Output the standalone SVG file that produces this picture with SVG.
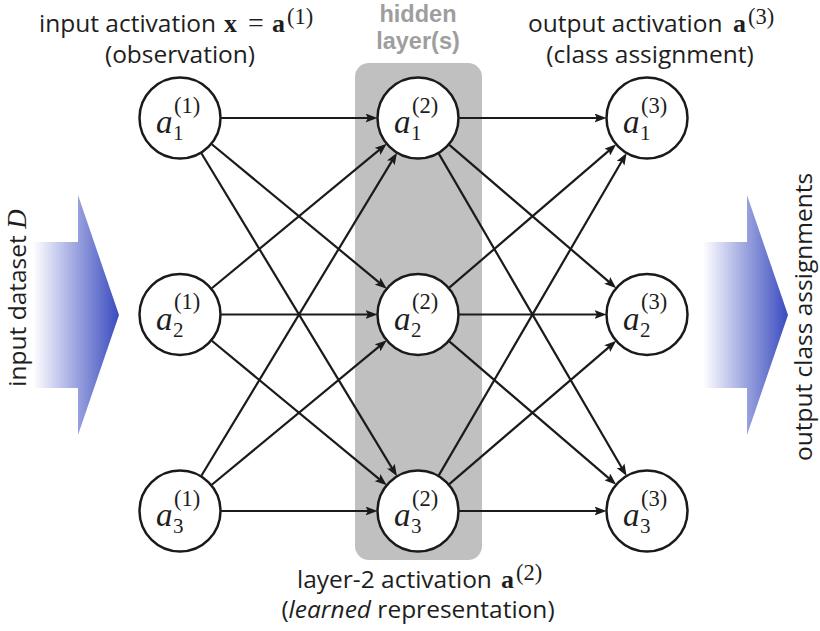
<svg xmlns="http://www.w3.org/2000/svg" width="820" height="631" viewBox="0 0 820 631">
<style>
.lbl{font-family:"Open Sans","DejaVu Sans",sans-serif;font-size:24.5px;fill:#1e1e1e}
.hid{font-family:"Liberation Sans",Arial,sans-serif;font-weight:700;font-size:23.5px;fill:#9e9e9e}
.mb{font-family:"Liberation Serif",serif;font-weight:700;font-size:26px;fill:#1e1e1e}
.eq{font-family:"Liberation Serif",serif;font-size:28px;fill:#1e1e1e}
.ai{font-family:"Liberation Serif",serif;font-style:italic;font-size:33px;fill:#1e1e1e}
.sb{font-family:"Liberation Serif",serif;font-size:21px;fill:#1e1e1e}
.sp{font-family:"Liberation Serif",serif;font-size:22.5px;fill:#1e1e1e}
.node circle{fill:#fff;stroke:#1a1a1a;stroke-width:2.5}
.edges line{stroke:#1a1a1a;stroke-width:2.2;marker-end:url(#ah)}
</style>
<defs>
<marker id="ah" viewBox="0 0 12 9" refX="7" refY="4.5" markerWidth="12" markerHeight="9" markerUnits="userSpaceOnUse" orient="auto">
<path d="M0,0 L12,4.5 L0,9 L2.5,4.5 Z" fill="#1a1a1a"/>
</marker>
<linearGradient id="gl" gradientUnits="userSpaceOnUse" x1="33" y1="0" x2="119" y2="0">
<stop offset="0" stop-color="#ffffff"/>
<stop offset="1" stop-color="#3a4bbf"/>
</linearGradient>
<linearGradient id="gr" gradientUnits="userSpaceOnUse" x1="703" y1="0" x2="788" y2="0">
<stop offset="0" stop-color="#ffffff"/>
<stop offset="1" stop-color="#3a4bbf"/>
</linearGradient>
</defs>
<rect width="820" height="631" fill="#ffffff"/>

<g id="hidden-layer">
<rect x="355" y="63" width="127" height="497" rx="14" fill="#c0c0c0"/>
<text class="hid" x="418" y="22" text-anchor="middle">hidden</text>
<text class="hid" x="418" y="48.5" text-anchor="middle">layer(s)</text>
</g>

<g id="input-arrow">
<path d="M33,242 H78 V195 L119,315 L78,435 V388 H33 Z" fill="url(#gl)"/>
<text class="lbl" transform="translate(26,298) rotate(-90)" text-anchor="middle" font-size="25">input dataset <tspan font-family="Liberation Serif,serif" font-style="italic" font-size="27">D</tspan></text>
</g>

<g id="output-arrow">
<path d="M703,242 H747 V195 L788,315 L747,435 V388 H703 Z" fill="url(#gr)"/>
<text class="lbl" transform="translate(812,317) rotate(-90)" text-anchor="middle">output class assignments</text>
</g>

<g id="label-input">
<text class="lbl" x="39" y="32">input activation</text>
<text class="mb" x="224" y="32">x</text>
<text class="eq" x="248" y="32">=</text>
<text class="mb" x="272" y="32">a</text>
<text class="sp" x="287" y="24">(1)</text>
<text class="lbl" x="180" y="63" text-anchor="middle">(observation)</text>
</g>

<g id="label-output">
<text class="lbl" x="528" y="32">output activation</text>
<text class="mb" x="733" y="32">a</text>
<text class="sp" x="748" y="24">(3)</text>
<text class="lbl" x="650" y="63" text-anchor="middle">(class assignment)</text>
</g>

<g id="label-hidden">
<text class="lbl" x="297" y="588">layer-2 activation</text>
<text class="mb" x="501" y="588">a</text>
<text class="sp" x="516" y="580">(2)</text>
<text class="lbl" x="418" y="618" text-anchor="middle">(<tspan font-style="italic">learned</tspan> representation)</text>
</g>

<g class="edges" id="connectors">
<line x1="221.25" y1="118" x2="372.5" y2="118"/>
<line x1="221.25" y1="314.5" x2="372.5" y2="314.5"/>
<line x1="221.25" y1="511" x2="372.5" y2="511"/>
<line x1="211.81" y1="144.26" x2="382.91" y2="285.53"/>
<line x1="211.81" y1="340.76" x2="382.91" y2="482.03"/>
<line x1="211.81" y1="288.24" x2="382.91" y2="146.97"/>
<line x1="211.81" y1="484.74" x2="382.91" y2="343.47"/>
<line x1="201.37" y1="153.29" x2="394.43" y2="472.08"/>
<line x1="201.37" y1="475.71" x2="394.43" y2="156.92"/>
<line x1="459.25" y1="118" x2="601.5" y2="118"/>
<line x1="459.25" y1="314.5" x2="601.5" y2="314.5"/>
<line x1="459.25" y1="511" x2="601.5" y2="511"/>
<line x1="449.30" y1="144.86" x2="612.47" y2="284.87"/>
<line x1="449.30" y1="341.36" x2="612.47" y2="481.37"/>
<line x1="449.30" y1="287.64" x2="612.47" y2="147.63"/>
<line x1="449.30" y1="484.14" x2="612.47" y2="344.13"/>
<line x1="438.77" y1="153.64" x2="624.09" y2="471.69"/>
<line x1="438.77" y1="475.36" x2="624.09" y2="157.31"/>
</g>

<g class="node" id="a1-1"><circle cx="180" cy="118" r="40.5"/><text class="ai" x="156" y="133">a</text><text class="sb" x="173" y="140">1</text><text class="sp" x="174" y="112.5">(1)</text></g>
<g class="node" id="a2-1"><circle cx="180" cy="314.5" r="40.5"/><text class="ai" x="156" y="329.5">a</text><text class="sb" x="173" y="336.5">2</text><text class="sp" x="174" y="309">(1)</text></g>
<g class="node" id="a3-1"><circle cx="180" cy="511" r="40.5"/><text class="ai" x="156" y="526">a</text><text class="sb" x="173" y="533">3</text><text class="sp" x="174" y="505.5">(1)</text></g>

<g class="node" id="a1-2"><circle cx="418" cy="118" r="40.5"/><text class="ai" x="394" y="133">a</text><text class="sb" x="411" y="140">1</text><text class="sp" x="412" y="112.5">(2)</text></g>
<g class="node" id="a2-2"><circle cx="418" cy="314.5" r="40.5"/><text class="ai" x="394" y="329.5">a</text><text class="sb" x="411" y="336.5">2</text><text class="sp" x="412" y="309">(2)</text></g>
<g class="node" id="a3-2"><circle cx="418" cy="511" r="40.5"/><text class="ai" x="394" y="526">a</text><text class="sb" x="411" y="533">3</text><text class="sp" x="412" y="505.5">(2)</text></g>

<g class="node" id="a1-3"><circle cx="647" cy="118" r="40.5"/><text class="ai" x="623" y="133">a</text><text class="sb" x="640" y="140">1</text><text class="sp" x="641" y="112.5">(3)</text></g>
<g class="node" id="a2-3"><circle cx="647" cy="314.5" r="40.5"/><text class="ai" x="623" y="329.5">a</text><text class="sb" x="640" y="336.5">2</text><text class="sp" x="641" y="309">(3)</text></g>
<g class="node" id="a3-3"><circle cx="647" cy="511" r="40.5"/><text class="ai" x="623" y="526">a</text><text class="sb" x="640" y="533">3</text><text class="sp" x="641" y="505.5">(3)</text></g>
</svg>
